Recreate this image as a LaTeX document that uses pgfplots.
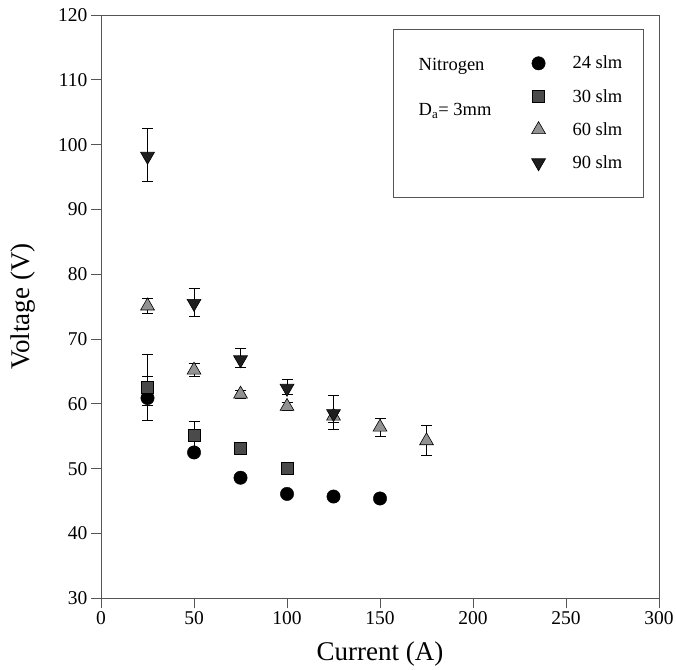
\documentclass[border=0pt]{standalone}
\usepackage{pgfplots}
\pgfplotsset{compat=1.18}
\usepackage{fontspec}
\setmainfont{Liberation Serif}
\definecolor{sqgray}{HTML}{4A4A4A}
\definecolor{trigray}{HTML}{929292}
\definecolor{dtri}{HTML}{1E1E1E}
\definecolor{axgray}{HTML}{555555}
\begin{document}
\begin{tikzpicture}[font=\fontsize{18.5}{22}\selectfont]
\useasboundingbox (-101pt,-71pt) rectangle (574.7pt,598pt);
\begin{axis}[
  at={(0,0)}, anchor=south west,
  scale only axis, width=557.7pt, height=583pt,
  xmin=0, xmax=300, ymin=30, ymax=120,
  xtick={0,50,...,300}, ytick={30,40,...,120},
  tick align=outside, major tick length=10pt,
  xtick pos=bottom, ytick pos=left,
  axis line style={axgray, line width=0.9pt},
  every tick/.style={axgray, line width=0.9pt},
  tick label style={font=\fontsize{19.5}{22}\selectfont},
  /pgf/number format/assume math mode=true,
  xlabel={Current (A)}, ylabel={Voltage (V)},
  label style={font=\fontsize{27}{30}\selectfont},
  xlabel style={at={(axis description cs:0.5,-0.095)}, anchor=center},
  ylabel style={at={(axis description cs:-0.14,0.5)}, anchor=center},
  clip=false,
  legend style={at={(axis cs:229.8,114.3)}, anchor=north west, draw=none, fill=none,
    row sep=14.8pt, font=\fontsize{18.5}{22}\selectfont},
  legend cell align=left,
  error bars/error bar style={black, line width=0.8pt},
  error bars/error mark options={rotate=90, mark size=5.5pt, black, line width=0.8pt},
]
% legend frame and notes
\draw[axgray, line width=0.9pt] (axis cs:157.2,117.8) rectangle (axis cs:291.4,91.8);
\node[anchor=west] at (axis cs:168.9,112.0) {Nitrogen};
\node[anchor=west] at (axis cs:168.9,105.2) {D\textsubscript{a}= 3mm};

% 24 slm
\addplot[only marks, mark=*, mark size=6.7pt, mark options={fill=black, draw=black},
  error bars/.cd, y dir=both, y explicit]
  coordinates {
  (25,60.9) +- (0,3.4)
  (50,52.5) +- (0,0)
  (75,48.6) +- (0,0)
  (100,46.1) +- (0,0)
  (125,45.7) +- (0,0)
  (150,45.4) +- (0,0)
  };
\addlegendentry{\hspace{25pt}24 slm}
% 30 slm
\addplot[only marks, mark=square*, mark size=6pt, mark options={fill=sqgray, draw=black, line width=0.6pt},
  error bars/.cd, y dir=both, y explicit]
  coordinates {
  (25,62.6) += (0,5.0) -= (0,2.9)
  (50,55.2) +- (0,2.1)
  (75,53.1) +- (0,0.9)
  (100,50.1) +- (0,0)
  };
\addlegendentry{\hspace{25pt}30 slm}
% 60 slm
\addplot[only marks, mark=triangle*, mark size=8pt, mark options={fill=trigray, draw=black, line width=0.6pt},
  error bars/.cd, y dir=both, y explicit]
  coordinates {
  (25,75.1) +- (0,1.2)
  (50,65.2) +- (0,1.0)
  (75,61.5) +- (0,0.6)
  (100,59.6) +- (0,0.6)
  (125,58.1) +- (0,0.9)
  (150,56.4) +- (0,1.4)
  (175,54.3) +- (0,2.3)
  };
\addlegendentry{\hspace{25pt}60 slm}
% 90 slm
\addplot[only marks, mark=triangle*, mark size=8pt, mark options={rotate=180, fill=dtri, draw=black, line width=0.6pt},
  error bars/.cd, y dir=both, y explicit]
  coordinates {
  (25,98.2) += (0,4.3) -= (0,3.9)
  (50,75.5) += (0,2.3) -= (0,2.0)
  (75,66.8) += (0,1.7) -= (0,1.2)
  (100,62.4) += (0,1.3) -= (0,0.9)
  (125,58.5) += (0,2.75) -= (0,2.4)
  };
\addlegendentry{\hspace{25pt}90 slm}
\end{axis}
\end{tikzpicture}
\end{document}
